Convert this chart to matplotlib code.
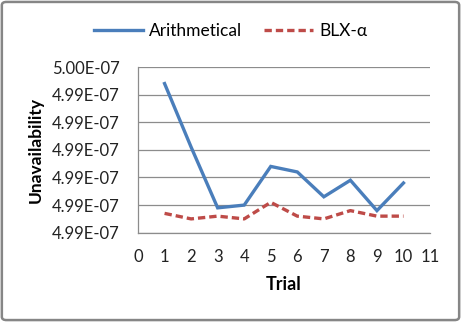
import matplotlib
matplotlib.use("Agg")
import matplotlib.pyplot as plt
from matplotlib.patches import FancyBboxPatch
from matplotlib.ticker import FixedLocator, FixedFormatter

# Data (unavailability, in units of 1e-7)
trials = [1, 2, 3, 4, 5, 6, 7, 8, 9, 10]
arithmetical = [4.99494, 4.99471, 4.99449, 4.99450, 4.99464, 4.99462,
                4.99453, 4.99459, 4.99448, 4.99458]
blx_alpha = [4.99447, 4.99445, 4.99446, 4.99445, 4.99451, 4.99446,
             4.99445, 4.99448, 4.99446, 4.99446]

y_ticks = [4.9944, 4.9945, 4.9946, 4.9947, 4.9948, 4.9949, 4.9950]
y_tick_labels = ["4.99E-07", "4.99E-07", "4.99E-07", "4.99E-07",
                 "4.99E-07", "4.99E-07", "5.00E-07"]
x_ticks = list(range(0, 12))

plt.rcParams["font.family"] = ["Lato", "DejaVu Sans"]

fig = plt.figure(figsize=(4.61, 3.22), dpi=100)
ax = fig.add_axes([0.2994, 0.2773, 0.6334, 0.5146])

ax.plot(trials, arithmetical, color="#4a7ebb", lw=2.4, label="Arithmetical",
        solid_joinstyle="miter")
ax.plot(trials, blx_alpha, color="#be4b48", lw=2.4, ls=(0, (2.2, 1.2)),
        label="BLX-\u03b1")

ax.set_xlim(0, 11)
ax.set_ylim(y_ticks[0], y_ticks[-1])
ax.xaxis.set_major_locator(FixedLocator(x_ticks))
ax.yaxis.set_major_locator(FixedLocator(y_ticks))
ax.yaxis.set_major_formatter(FixedFormatter(y_tick_labels))
ax.grid(axis="y", color="#8c8c8c", lw=0.9)
ax.set_axisbelow(True)
for side in ["top", "right"]:
    ax.spines[side].set_visible(False)
for side in ["left", "bottom"]:
    ax.spines[side].set_color("#8c8c8c")
    ax.spines[side].set_linewidth(0.9)
ax.tick_params(length=0, labelsize=12, colors="#222222")
ax.tick_params(axis="x", pad=12)
ax.tick_params(axis="y", pad=13)

ax.set_xlabel("Trial", fontsize=13, fontweight="bold", labelpad=8)
ax.set_ylabel("Unavailability", fontsize=12.5, fontweight="bold", labelpad=6)

fig.legend(loc="center", bbox_to_anchor=(0.5, 0.905), ncol=2, frameon=False,
           fontsize=12.5, handlelength=2.8, columnspacing=1.3, handletextpad=0.35)

# Outer chart border
fig.patches.append(FancyBboxPatch((0.004, 0.006), 0.992, 0.988,
                                  boxstyle="round,pad=0,rounding_size=0.01",
                                  transform=fig.transFigure, fill=False,
                                  edgecolor="#868686", lw=1.8))

fig.savefig("out.png", dpi=100)
